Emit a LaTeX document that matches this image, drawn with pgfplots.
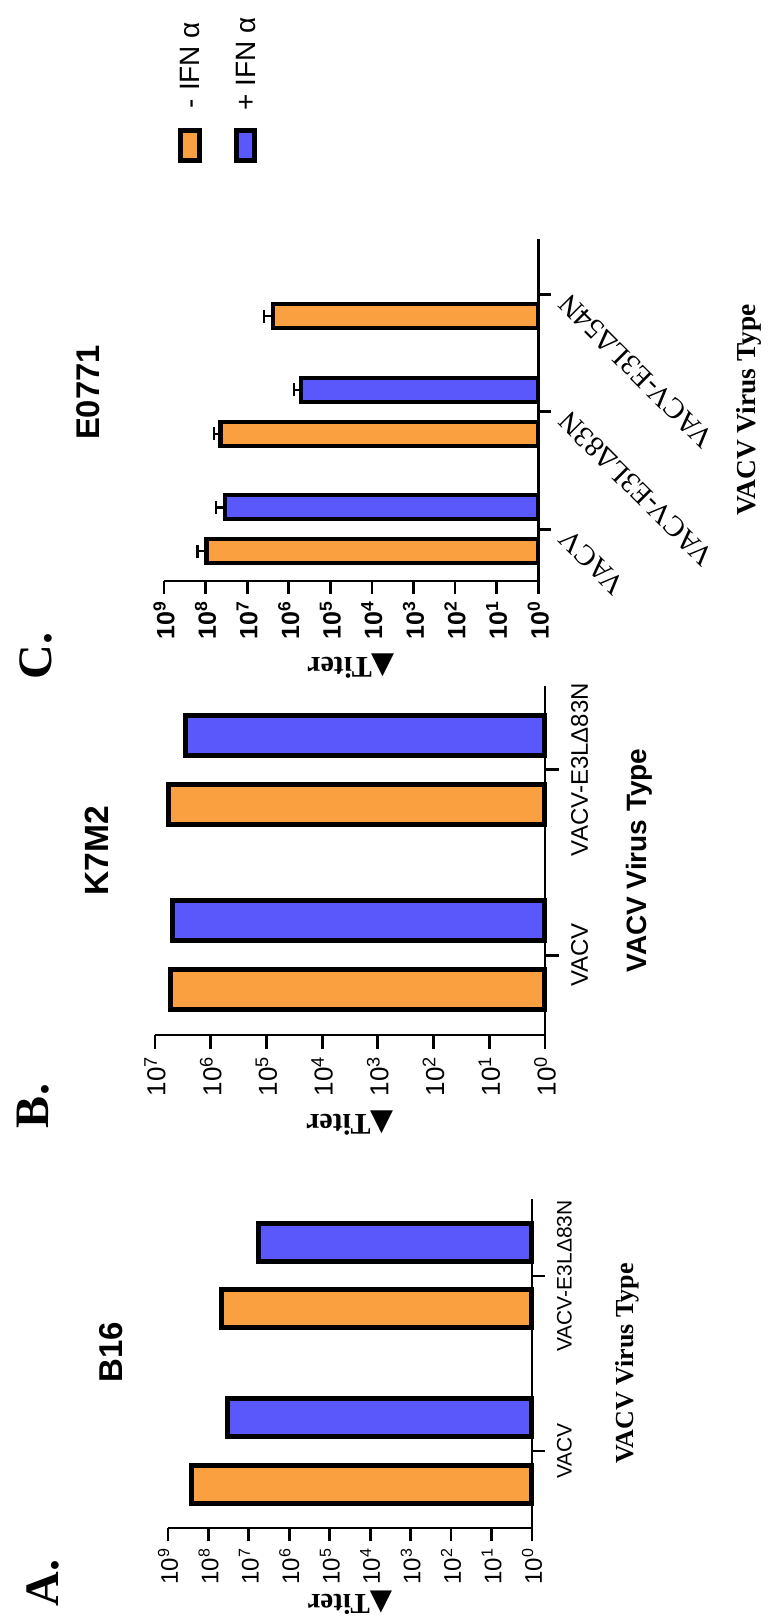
\documentclass[border=0pt]{standalone}
\usepackage{fontspec}
\usepackage{pgfplots}
\pgfplotsset{compat=1.18}
\newfontfamily\arial{Liberation Sans}
\newfontfamily\tnr{Liberation Serif}
\newfontfamily\dejavu{DejaVu Sans}
\definecolor{orangeC}{RGB}{250,160,65}
\definecolor{blueC}{RGB}{90,88,250}
\pgfplotsset{
  panel/.style={
    scale only axis, anchor=south west, clip=false,
    xmin=1,
    xminorticks=false,
    axis x line*=bottom, axis y line*=right,
    axis line style={-, line width=1.4pt, black},
    tick align=outside, major tick length=6.5pt,
    every tick/.style={black, line width=1.4pt},
    xticklabel style={rotate=90, anchor=east},
    xlabel style={rotate=180, anchor=south},
    title style={rotate=90, anchor=center},
  },
  dec9/.style={xtick={1,10,100,1000,10000,100000,1000000,10000000,100000000,1000000000},
    xticklabels={10\textsuperscript{0},10\textsuperscript{1},10\textsuperscript{2},10\textsuperscript{3},10\textsuperscript{4},10\textsuperscript{5},10\textsuperscript{6},10\textsuperscript{7},10\textsuperscript{8},10\textsuperscript{9}}},
  dec7/.style={xtick={1,10,100,1000,10000,100000,1000000,10000000},
    xticklabels={10\textsuperscript{0},10\textsuperscript{1},10\textsuperscript{2},10\textsuperscript{3},10\textsuperscript{4},10\textsuperscript{5},10\textsuperscript{6},10\textsuperscript{7}}},
  errC/.style={draw=none, mark=none, forget plot,
    error bars/.cd, x dir=plus, x explicit, error mark=|,
    error bar style={draw=black, line width=1.2pt},
    error mark options={draw=black, line width=1.2pt, mark size=3.3pt}},
}
\newcommand{\titer}{{\dejavu ▲}{\tnr\bfseries Titer}}
\begin{document}
\begin{tikzpicture}
\path[use as bounding box] (0,0) rectangle (385.5pt,809.5pt);

% ---------------- Panel A: B16 ----------------
\begin{axis}[xmode=log, log basis x=10, x dir=reverse, panel, dec9,
  at={(84pt,45.5pt)}, width=182pt, height=164.5pt,
  xmax=1000000000, ymin=-0.44, ymax=1.44,
  ytick={0,1}, yticklabels={VACV,VACV-E3LΔ83N},
  yticklabel style={xshift=2.5pt, rotate=90, anchor=north, font=\arial\fontsize{10.5}{12}\selectfont},
  xticklabel style={font=\arial\fontsize{12}{13}\selectfont},
  xlabel={\fontsize{14.5}{15}\selectfont\titer},
  xlabel style={at={(axis description cs:0.5,-0.17)}},
  ylabel={\tnr\bfseries\fontsize{13}{14}\selectfont VACV Virus Type},
  ylabel style={at={(axis description cs:1.21,0.5)}, rotate=0, anchor=north},
  title={\arial\bfseries\fontsize{16.5}{18}\selectfont B16},
  title style={at={(axis description cs:-0.155,0.498)}},
]
\addplot[xbar, bar width=19pt, bar shift=-16.5pt, fill=orangeC, draw=black, line width=2.5pt]
  coordinates {(2.63e8,0) (4.78e7,1)};
\addplot[xbar, bar width=19pt, bar shift=16.5pt, fill=blueC, draw=black, line width=2.5pt]
  coordinates {(3.45e7,0) (5.65e6,1)};
\end{axis}

% ---------------- Panel B: K7M2 ----------------
\begin{axis}[xmode=log, log basis x=10, x dir=reverse, panel, dec7,
  at={(77.5pt,292pt)}, width=195pt, height=174.5pt,
  xmax=10000000, ymin=-0.43, ymax=1.45,
  major tick length=7pt,
  ytick={0,1}, yticklabels={VACV,VACV-E3LΔ83N},
  yticklabel style={xshift=2.5pt, rotate=90, anchor=north, font=\arial\fontsize{12}{13}\selectfont},
  xticklabel style={font=\arial\fontsize{13}{14}\selectfont},
  xlabel={\fontsize{15}{16}\selectfont\titer},
  xlabel style={at={(axis description cs:0.5,-0.198)}},
  ylabel={\arial\bfseries\fontsize{14}{15}\selectfont VACV Virus Type},
  ylabel style={at={(axis description cs:1.19,0.5)}, rotate=0, anchor=north},
  title={\arial\bfseries\fontsize{16.8}{18}\selectfont K7M2},
  title style={at={(axis description cs:-0.149,0.494)}},
]
\addplot[xbar, bar width=20pt, bar shift=-17.25pt, fill=orangeC, draw=black, line width=2.5pt]
  coordinates {(5.2e6,0) (5.75e6,1)};
\addplot[xbar, bar width=20pt, bar shift=17.25pt, fill=blueC, draw=black, line width=2.5pt]
  coordinates {(4.9e6,0) (2.8e6,1)};
\end{axis}

% ---------------- Panel C: E0771 ----------------
\begin{axis}[xmode=log, log basis x=10, x dir=reverse, panel, dec9,
  at={(82pt,519pt)}, width=187.15pt, height=171pt,
  xmax=1000000000, ymin=-0.44, ymax=2.47,
  ytick={0,1,2}, yticklabels={VACV,VACV-E3LΔ83N,VACV-E3LΔ54N},
  yticklabel style={xshift=4pt, rotate=135, anchor=east, font=\tnr\fontsize{14.5}{15}\selectfont},
  xticklabel style={font=\arial\bfseries\fontsize{12.5}{13}\selectfont},
  xlabel={\fontsize{15}{16}\selectfont\titer},
  xlabel style={at={(axis description cs:0.5,-0.193)}},
  ylabel={\tnr\bfseries\fontsize{13.7}{15}\selectfont VACV Virus Type},
  ylabel style={at={(axis description cs:1.51,0.5)}, rotate=0, anchor=north},
  title={\arial\bfseries\fontsize{16.4}{18}\selectfont E0771},
  title style={at={(axis description cs:-0.202,0.516)}},
]
\addplot[xbar, bar width=12pt, bar shift=-11pt, fill=orangeC, draw=black, line width=2.1pt]
  coordinates {(9.5e7,0) (4.4e7,1) (2.4e6,2)};
\addplot[xbar, bar width=12pt, bar shift=11pt, fill=blueC, draw=black, line width=2.1pt]
  coordinates {(3.45e7,0) (5.0e5,1)};
% error bars (mean + SD), drawn at the bars' offset positions
\addplot[errC] coordinates {(9.5e7,-0.187) +- (6.3e7,0) (4.4e7,0.813) +- (1.9e7,0) (2.4e6,1.813) +- (1.5e6,0)};
\addplot[errC] coordinates {(3.45e7,0.187) +- (2.2e7,0) (5.0e5,1.187) +- (2.4e5,0)};
\end{axis}

% panel letters
\node[rotate=90, font=\tnr\bfseries\fontsize{24}{26}\selectfont] at (21.5pt,18pt) {A.};
\node[rotate=90, font=\tnr\bfseries\fontsize{24}{26}\selectfont] at (16.6pt,256.5pt) {B.};
\node[rotate=90, font=\tnr\bfseries\fontsize{24}{26}\selectfont] at (17.8pt,481.6pt) {C.};

% legend
\draw[fill=orangeC, line width=2.5pt] (90.25pt,729.25pt) rectangle (99.75pt,744.25pt);
\draw[fill=blueC, line width=2.5pt] (118.25pt,729.25pt) rectangle (127.25pt,744.25pt);
\node[rotate=90, font=\arial\fontsize{14}{15}\selectfont] at (95pt,777pt) {- IFN α};
\node[rotate=90, font=\arial\fontsize{14}{15}\selectfont] at (123pt,777.5pt) {+ IFN α};
\end{tikzpicture}
\end{document}
